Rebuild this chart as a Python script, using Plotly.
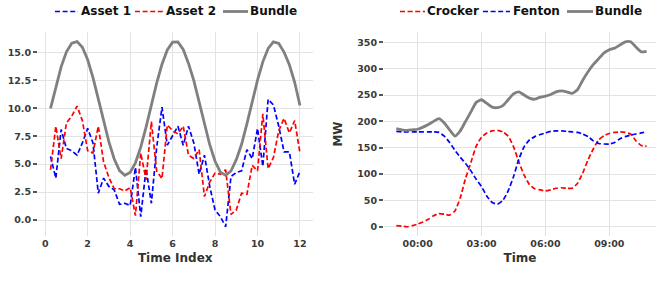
import plotly.graph_objects as go
from plotly.subplots import make_subplots
import pandas as pd

# ---------------- Left panel data ----------------
time_index = [0.25 * (i + 1) for i in range(48)]
asset1 = [5.7, 3.75, 8.1, 6.4, 6.2, 5.8, 6.9, 8.2, 6.9, 2.4, 3.75, 3.0,
          2.7, 1.4, 1.5, 1.3, 4.7, 0.3, 4.6, 1.5, 6.5, 10.1, 6.7, 7.6,
          8.4, 6.7, 8.4, 6.9, 4.1, 5.8, 3.0, 0.9, 0.3, -0.6, 3.9, 4.25,
          4.4, 6.3, 5.5, 8.2, 4.8, 10.8, 10.3, 8.4, 6.1, 6.1, 3.2, 4.35]
asset2 = [4.5, 8.4, 5.5, 8.7, 9.3, 10.2, 8.9, 6.2, 6.0, 8.4, 5.2, 3.8,
          2.8, 2.8, 2.6, 2.9, 0.4, 6.0, 3.6, 8.8, 4.4, 3.7, 8.5, 8.0,
          7.7, 8.4, 5.8, 5.5, 6.3, 2.1, 3.4, 4.2, 4.1, 4.5, 0.5, 0.9,
          2.4, 2.3, 4.9, 4.4, 9.5, 4.6, 5.6, 8.0, 9.1, 7.8, 8.9, 6.0]
bundle_left = [10.0, 11.96, 13.71, 15.05, 15.83, 15.97, 15.46, 14.34, 12.74, 10.85, 8.86, 6.99,
               5.46, 4.43, 4.01, 4.25, 5.12, 6.52, 8.32, 10.30, 12.25, 13.94, 15.22, 15.92,
               15.94, 15.27, 14.02, 12.47, 10.51, 8.55, 6.74, 5.26, 4.29, 4.00, 4.39, 5.40,
               6.78, 8.61, 10.59, 12.52, 14.16, 15.36, 15.95, 15.81, 15.03, 13.90, 12.33, 10.25]
left_series_names = ["Asset 1", "Asset 2", "Bundle"]
left_xticks = [0, 2, 4, 6, 8, 10, 12]
left_yticks = [0, 2.5, 5, 7.5, 10, 12.5, 15]

# ---------------- Right panel data ----------------
times = pd.date_range("2021-01-01 23:00", periods=48, freq="15min")
crocker = [2, 1, 0, 2, 5, 9, 14, 21, 25, 24, 22, 30,
           55, 92, 122, 153, 170, 178, 182, 183, 180, 172, 152, 123,
           98, 80, 72, 70, 68, 70, 73, 74, 73, 73, 82, 102,
           127, 148, 165, 173, 177, 179, 180, 179, 176, 163, 154, 153]
fenton = [181, 180, 180, 180, 180, 180, 180, 180, 179, 172, 160, 145,
          132, 120, 106, 90, 76, 58, 46, 43, 50, 68, 95, 128,
          152, 165, 171, 175, 178, 181, 182, 182, 181, 180, 179, 176,
          171, 163, 158, 157, 157, 160, 167, 171, 174, 176, 178, 180]
bundle_right = [186, 184, 183, 184, 185, 189, 194, 200, 205, 197, 184, 172,
                182, 200, 218, 236, 241, 234, 227, 226, 230, 241, 252, 256,
                250, 244, 242, 246, 248, 251, 256, 258, 256, 253, 260, 278,
                294, 308, 319, 330, 336, 339, 345, 351, 351, 341, 332, 333]
right_series_names = ["Crocker", "Fenton", "Bundle"]
time_tickvals = ["2021-01-02 00:00", "2021-01-02 03:00", "2021-01-02 06:00", "2021-01-02 09:00"]
time_ticktext = ["00:00", "03:00", "06:00", "09:00"]
right_yticks = [0, 50, 100, 150, 200, 250, 300, 350]

# ---------------- Styling ----------------
FONT = "DejaVu Sans"
DASH = "5px,2.6px"
BLUE, RED, GRAY = "#0000ff", "#ff0000", "#808080"
W, H = 656, 281
ML, MR, MT, MB = 38, 0, 32, 45
PW, PH = W - ML - MR, H - MT - MB

def px_x(p):
    return (p - ML) / PW

def px_y(p):
    return (H - MB - p) / PH

fig = make_subplots(rows=1, cols=2, horizontal_spacing=0.1)

left_styles = [dict(color=BLUE, width=1.7, dash=DASH),
               dict(color=RED, width=1.7, dash=DASH),
               dict(color=GRAY, width=2.8)]
for name, ys, st in zip(left_series_names, [asset1, asset2, bundle_left], left_styles):
    fig.add_trace(go.Scatter(x=time_index, y=ys, mode="lines", name=name,
                             line=st, showlegend=False), 1, 1)

right_styles = [dict(color=RED, width=1.7, dash=DASH, shape="spline", smoothing=0.5),
                dict(color=BLUE, width=1.7, dash=DASH, shape="spline", smoothing=0.5),
                dict(color=GRAY, width=2.8, shape="spline", smoothing=0.5)]
for name, ys, st in zip(right_series_names, [crocker, fenton, bundle_right], right_styles):
    fig.add_trace(go.Scatter(x=times, y=ys, mode="lines", name=name,
                             line=st, showlegend=False), 1, 2)

# manual legends (line sample + label) placed above each panel
legend_font = dict(family=FONT, size=12, color="#111111", weight="bold")
legend_y_px = 11.5
left_legend_pos = [(55, 78, 80), (135, 163, 165), (223, 248, 249)]
right_legend_pos = [(400, 425, 426), (483, 510, 512), (567, 593, 594)]
for names, styles, positions in [(left_series_names, left_styles, left_legend_pos),
                                 (right_series_names, right_styles, right_legend_pos)]:
    for name, st, (x0, x1, xt) in zip(names, styles, positions):
        fig.add_shape(type="line", xref="paper", yref="paper",
                      x0=px_x(x0), x1=px_x(x1), y0=px_y(legend_y_px), y1=px_y(legend_y_px),
                      line=dict(color=st["color"], width=st["width"], dash=st.get("dash", "solid")))
        fig.add_annotation(xref="paper", yref="paper", x=px_x(xt), y=px_y(legend_y_px),
                           text=name, showarrow=False, xanchor="left", yanchor="middle",
                           font=legend_font, borderpad=0)

grid = "#e3e3e3"
tickfont = dict(family=FONT, size=9.5, color="#3a3a3a", weight="bold")
titlefont = dict(family=FONT, size=12, color="#333333", weight="bold")

axis_common = dict(showgrid=True, gridcolor=grid, gridwidth=1, zeroline=False,
                   showline=False, tickfont=tickfont)

fig.update_xaxes(domain=[0, px_x(312.5)], range=[-0.34, 12.59], tickvals=left_xticks,
                 ticks="", title=dict(text="Time Index", font=titlefont, standoff=6),
                 row=1, col=1, **axis_common)
fig.update_yaxes(domain=[0, 1], range=[-1.43, 16.83], tickvals=left_yticks, tickformat=".1f",
                 ticks="outside", ticklen=4, tickwidth=1.5, tickcolor="#555555",
                 row=1, col=1, **axis_common)

fig.update_xaxes(domain=[px_x(384), 1], type="date",
                 range=["2021-01-01 22:25:12", "2021-01-02 11:11:24"],
                 tickvals=time_tickvals, ticktext=time_ticktext, ticks="",
                 title=dict(text="Time", font=titlefont, standoff=6),
                 row=1, col=2, **axis_common)
fig.update_yaxes(domain=[0, 1], range=[-17.6, 369.6], tickvals=right_yticks,
                 ticks="outside", ticklen=4, tickwidth=1.5, tickcolor="#555555",
                 title=dict(text="MW", font=titlefont, standoff=12),
                 row=1, col=2, **axis_common)

fig.update_layout(
    width=W, height=H,
    margin=dict(l=ML, r=MR, t=MT, b=MB, autoexpand=False),
    paper_bgcolor="white", plot_bgcolor="white",
    showlegend=False,
)

fig.write_html("out.html", config={"displayModeBar": False},
               post_script="document.body.style.margin='0';document.body.style.overflow='hidden';")
